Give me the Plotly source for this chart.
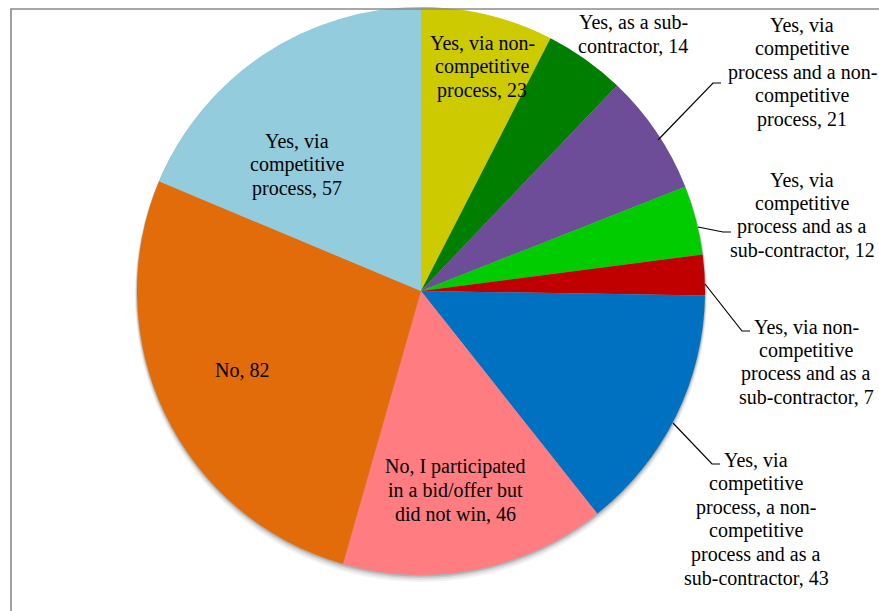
import plotly.graph_objects as go

W, H = 879, 611

labels = [
    "Yes, via non-competitive process",
    "Yes, as a sub-contractor",
    "Yes, via competitive process and a non-competitive process",
    "Yes, via competitive process and as a sub-contractor",
    "Yes, via non-competitive process and as a sub-contractor",
    "Yes, via competitive process, a non-competitive process and as a sub-contractor",
    "No, I participated in a bid/offer but did not win",
    "No",
    "Yes, via competitive process",
]
values = [23, 14, 21, 12, 7, 43, 46, 82, 57]
colors = ["#CDCB00", "#007E00", "#6D4D97", "#00CC00", "#C00000",
          "#0070C0", "#FF7C80", "#E36C0A", "#93CDDD"]

# Label text as wrapped in the chart, one entry per slice
label_lines = [
    ["Yes, via non-", "competitive", "process, 23"],
    ["Yes, as a sub-", "contractor, 14"],
    ["Yes, via", "competitive", "process and a non-", "competitive", "process, 21"],
    ["Yes, via", "competitive", "process and as a", "sub-contractor, 12"],
    ["Yes, via non-", "competitive", "process and as a", "sub-contractor, 7"],
    ["Yes, via", "competitive", "process, a non-", "competitive", "process and as a", "sub-contractor, 43"],
    ["No, I participated", "in a bid/offer but", "did not win, 46"],
    ["No, 82"],
    ["Yes, via", "competitive", "process, 57"],
]
# label block centre (pixels from top-left)
label_pos = [
    (482, 67),
    (633, 34),
    (802, 72),
    (802, 215),
    (806, 362),
    (756, 519),
    (455, 490),
    (242, 370),
    (297, 165),
]
LINE_H = 23.6
# leader lines (pixel polylines) for outside labels
leaders = {
    2: [(658, 140), (713, 83), (721, 83)],
    3: [(698, 227), (723, 232), (731, 232)],
    4: [(705, 284), (742, 331), (750, 331)],
    5: [(673, 423), (712, 464), (720, 464)],
}

cx, cy, r = 421, 291, 284
FONT = "'Liberation Serif', 'Times New Roman', Times, serif"


def px(x):
    return x / W


def py(y):
    return 1 - y / H


fig = go.Figure(go.Pie(
    labels=labels,
    values=values,
    sort=False,
    direction="clockwise",
    rotation=0,
    marker=dict(colors=colors, line=dict(width=0)),
    textinfo="none",
    hoverinfo="label+value",
    showlegend=False,
    domain=dict(x=[px(cx - r), px(cx + r)], y=[py(cy + r), py(cy - r)]),
))

shapes = []
# soft drop shadow under the pie
for off, op in [(7, 0.05), (5, 0.07), (3, 0.10), (1.5, 0.12)]:
    shapes.append(dict(
        type="circle", xref="paper", yref="paper", layer="below",
        x0=px(cx - r - off * 0.3), x1=px(cx + r + off * 0.3),
        y0=py(cy + r + off), y1=py(cy - r + off * 0.2),
        fillcolor=f"rgba(0,0,0,{op})", line=dict(width=0),
    ))

# chart frame
shapes.append(dict(
    type="rect", xref="paper", yref="paper", layer="above",
    x0=px(11), x1=px(W + 10), y0=py(H + 10), y1=py(9),
    line=dict(color="#8A8A8A", width=1.6), fillcolor="rgba(0,0,0,0)",
))

for idx, pts in leaders.items():
    path = "M " + " L ".join(f"{px(x)},{py(y)}" for x, y in pts)
    shapes.append(dict(type="path", xref="paper", yref="paper", path=path,
                       line=dict(color="black", width=1.2)))

# one annotation per text line so the line pitch can be set exactly
annotations = []
for lines, (x, y) in zip(label_lines, label_pos):
    n = len(lines)
    for i, line in enumerate(lines):
        ly = y + (i - (n - 1) / 2) * LINE_H
        annotations.append(dict(
            text=line, x=px(x), y=py(ly), xref="paper", yref="paper",
            xanchor="center", yanchor="middle", showarrow=False,
            font=dict(family=FONT, size=20, color="black"),
        ))

fig.update_layout(
    width=W, height=H,
    margin=dict(l=0, r=0, t=0, b=0),
    paper_bgcolor="white",
    plot_bgcolor="white",
    font=dict(family=FONT),
    shapes=shapes,
    annotations=annotations,
)

fig.write_html("out.html")
